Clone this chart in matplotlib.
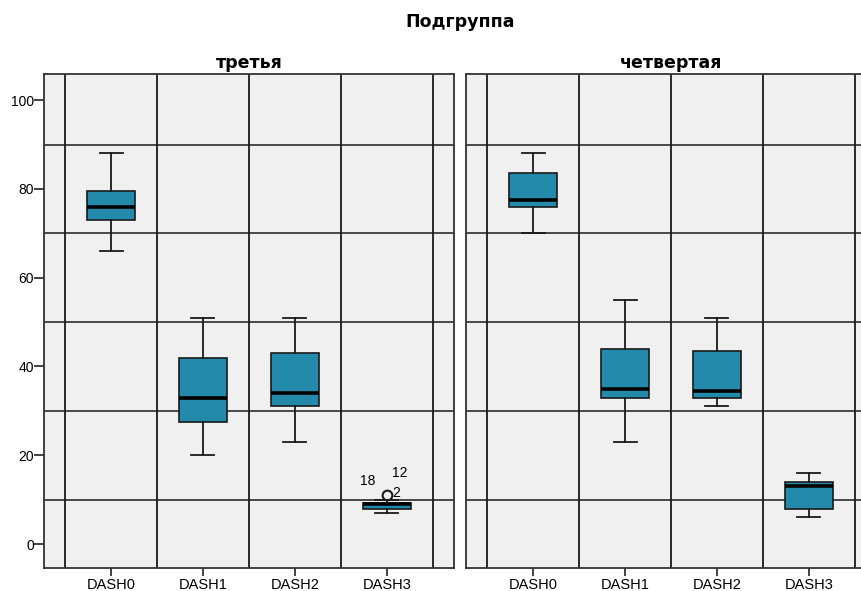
import matplotlib

matplotlib.use("Agg")

import matplotlib.pyplot as plt

plt.rcParams["font.family"] = ["Liberation Sans", "DejaVu Sans"]

# Box statistics (SPSS-style boxplots)
CATEGORIES = ["DASH0", "DASH1", "DASH2", "DASH3"]
PANELS = ["третья", "четвертая"]

# третья
third_whislo = [66, 20, 23, 7]
third_q1 = [73, 27.5, 31, 8]
third_med = [76, 33, 34, 9]
third_q3 = [79.5, 42, 43, 9.2]
third_whishi = [88, 51, 51, 10]
third_fliers = [[], [], [], [11]]

# четвертая
fourth_whislo = [70, 23, 31, 6]
fourth_q1 = [76, 33, 33, 8]
fourth_med = [77.5, 35, 34.5, 13]
fourth_q3 = [83.5, 44, 43.5, 14]
fourth_whishi = [88, 55, 51, 16]
fourth_fliers = [[], [], [], []]

# outlier case labels on DASH3 in the third subgroup
outlier_labels = ["18", "12", "2"]
outlier_value = 11

Y_TICKS = [0, 20, 40, 60, 80, 100]
Y_GRID = [10, 30, 50, 70, 90]

BOX_COLOR = "#238aac"
BG = "#f0f0f0"
LINE = "#1a1a1a"
TITLE_FONT = ["DejaVu Sans"]


def make_stats(whislo, q1, med, q3, whishi, fliers):
    return [
        dict(whislo=a, q1=b, med=c, q3=d, whishi=e, fliers=f, label=lab)
        for a, b, c, d, e, f, lab in zip(whislo, q1, med, q3, whishi, fliers, CATEGORIES)
    ]


def style_axes(ax, show_y):
    ax.set_facecolor(BG)
    ax.set_xlim(-0.73, 3.73)
    ax.set_ylim(-5.4, 105.9)
    for y in Y_GRID:
        ax.axhline(y, color=LINE, lw=1.1, zorder=1)
    for x in [-0.5, 0.5, 1.5, 2.5, 3.5]:
        ax.axvline(x, color=LINE, lw=1.3, zorder=1)
    ax.set_xticks(range(len(CATEGORIES)))
    ax.set_xticklabels(CATEGORIES, fontsize=10.5)
    ax.tick_params(axis="x", length=6, width=1.3, color="#333333", pad=1)
    if show_y:
        ax.set_yticks(Y_TICKS)
        ax.set_yticklabels([str(v) for v in Y_TICKS], fontsize=10)
        ax.tick_params(axis="y", length=7, width=1.3, color="#333333", pad=0)
    else:
        ax.set_yticks([])
    for sp in ax.spines.values():
        sp.set_color("#333333")
        sp.set_linewidth(1.3)


fig = plt.figure(figsize=(8.62, 5.91), dpi=100)
ax_l = fig.add_axes([0.051, 0.0389, 0.4756, 0.8359])
ax_r = fig.add_axes([0.5406, 0.0389, 0.4756, 0.8359])

panel_stats = [
    make_stats(third_whislo, third_q1, third_med, third_q3, third_whishi, third_fliers),
    make_stats(fourth_whislo, fourth_q1, fourth_med, fourth_q3, fourth_whishi, fourth_fliers),
]

for ax, stats, title, show_y in zip([ax_l, ax_r], panel_stats, PANELS, [True, False]):
    style_axes(ax, show_y)
    ax.bxp(
        stats,
        positions=range(len(stats)),
        widths=0.52,
        patch_artist=True,
        boxprops=dict(facecolor=BOX_COLOR, edgecolor="#1a1a1a", linewidth=1.2),
        medianprops=dict(color="black", linewidth=2.6),
        whiskerprops=dict(color="#1a1a1a", linewidth=1.3),
        capprops=dict(color="#1a1a1a", linewidth=1.3),
        capwidths=0.25,
        flierprops=dict(marker="o", markersize=7, markerfacecolor="none",
                        markeredgecolor="#1a1a1a", markeredgewidth=1.5),
        manage_ticks=False,
        zorder=3,
    )
    ax.set_title(title, fontsize=12.5, fontweight="bold", family=TITLE_FONT, pad=4)

# case labels next to the outlier
ax_l.annotate(outlier_labels[0], (3, outlier_value), xytext=(-19, 7),
              textcoords="offset points", fontsize=10)
ax_l.annotate(outlier_labels[1], (3, outlier_value), xytext=(4, 13),
              textcoords="offset points", fontsize=10)
ax_l.annotate(outlier_labels[2], (3, outlier_value), xytext=(4, -1),
              textcoords="offset points", fontsize=10)

fig.text(0.534, 0.962, "Подгруппа", ha="center", va="center",
         fontsize=12.5, fontweight="bold", family=TITLE_FONT)

fig.savefig("out.png", dpi=100, facecolor="white")
